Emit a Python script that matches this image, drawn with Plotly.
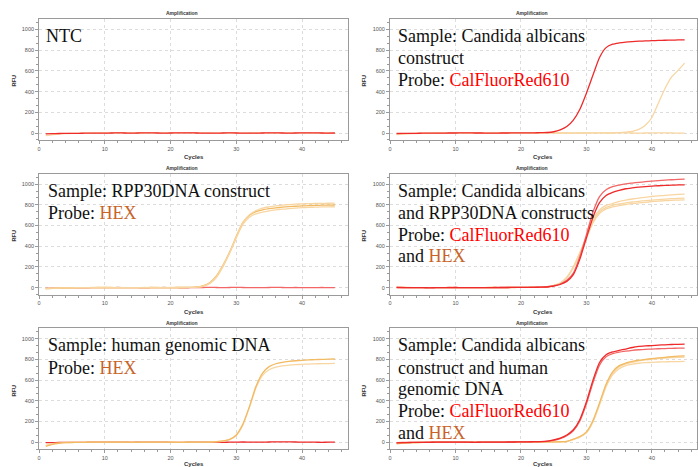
import plotly.graph_objects as go

W, H = 698, 467
cycles = list(range(1, 46))

# ---------------- data (RFU per cycle 1..45) ----------------
# Panel 1: NTC
ntc_red = [-8, -6, -5, -4, -3, -3, -2, -2, -1, -1, 0, 1, 0, -1, 0, 1, 1, 0, -1, 0, 1, 2, 1, 0, -1,
           -2, -1, 0, 1, 0, -1, -2, -1, 0, 1, 1, 0, -1, 0, 1, 2, 1, 0, -1, 0]
ntc_hex = [-25, -15, -10, -6, -4, -3, -1, 0, 1, 2, 2, 3, 2, 1, 0, 0, 1, 2, 1, 0, 1, 2, 3, 2, 1,
           0, -1, 0, 1, 0, -1, 0, 1, 2, 1, 0, 1, 2, 2, 1, 0, -1, 0, 0, -1]

# Panel 2: Candida albicans construct
ca_red = [-5, -4, -3, -3, -2, -2, -1, -1, 0, 0, 1, 1, 0, 0, -1, -1, 0, 0, 1, 1, 2, 2, 3,
          5, 12, 30, 62, 125, 230, 385, 560, 730, 825, 858, 870, 878, 883, 887, 890, 892,
          894, 896, 897, 899, 900]
ca_hex = [-12, -8, -5, -3, -2, -1, 0, 0, 1, 1, 0, 0, 1, 0, -1, 0, 0, 1, 0, 0, 1, 0, 0, 1, 0,
          0, 1, 1, 0, 0, 1, 1, 2, 2, 4, 8, 16, 35, 75, 150, 290, 430, 540, 605, 675]
ca_hex_flat = [-15, -10, -7, -5, -3, -2, -1, 0, 0, 1, 1, 0, 0, -1, 0, 1, 1, 0, 0, 1, 0, -1, 0,
               1, 1, 0, 0, -1, 0, 1, 2, 1, 0, 0, 1, 1, 0, -1, 0, 1, 2, 1, 0, -1, -1]

# Panel 3: RPP30DNA construct
rpp_hex_a = [-10, -7, -5, -3, -2, -1, 0, 0, 1, 1, 1, 0, 0, -1, 0, 0, 1, 1, 0, 0, 1, 1, 2,
             6, 18, 50, 115, 220, 345, 495, 630, 700, 735, 752, 763, 771, 777, 782, 786, 789,
             792, 794, 796, 797, 798]
rpp_hex_b = [-8, -6, -4, -3, -2, -1, 0, 1, 1, 0, 0, 1, 0, 0, -1, 0, 1, 0, 0, 1, 1, 2, 2,
             5, 15, 45, 108, 215, 340, 490, 625, 705, 745, 768, 780, 790, 797, 802, 806, 809,
             811, 813, 814, 815, 816]
rpp_hex_c = [-12, -8, -6, -4, -2, -1, -1, 0, 0, 1, 0, 0, -1, 0, 0, 1, 0, 0, 1, 0, 1, 1, 2,
             5, 13, 40, 100, 205, 335, 480, 610, 680, 712, 730, 742, 751, 758, 764, 768, 772,
             775, 777, 779, 780, 781]
rpp_red = [-6, -5, -4, -3, -3, -2, -2, -1, -1, 0, 0, 1, 0, 0, -1, -2, -1, 0, 1, 0, -1, -2, -1,
           0, 1, 2, 1, 0, 1, 2, 1, 0, -1, 0, 1, 2, 1, 0, 1, 0, -1, 0, 1, 0, 0]

# Panel 4: Candida albicans and RPP30DNA constructs
mix_red_1 = [2, 1, 0, 0, -1, -1, 0, 0, 1, 1, 0, 0, -1, -1, 0, 0, 1, 1, 2, 2, 3, 4, 5,
             8, 18, 35, 70, 140, 300, 510, 730, 880, 945, 975, 990, 1002, 1010, 1017, 1023,
             1028, 1033, 1038, 1042, 1045, 1048]
mix_red_2 = [1, 0, 0, -1, -1, -2, -1, 0, 0, 1, 0, 0, -1, 0, 0, 1, 1, 1, 2, 2, 3, 3, 4,
             6, 15, 30, 60, 125, 275, 480, 680, 820, 890, 920, 940, 955, 963, 970, 975, 980,
             984, 987, 990, 992, 993]
mix_hex_1 = [3, 2, 1, 0, 0, -1, 0, 0, 1, 0, 0, -1, 0, 0, 1, 1, 0, 1, 2, 2, 3, 4, 6,
             10, 22, 45, 100, 200, 340, 490, 660, 750, 795, 812, 832, 845, 856, 865, 872, 880,
             886, 892, 896, 900, 903]
mix_hex_2 = [2, 1, 0, 0, -1, -1, 0, 0, 1, 0, 0, 0, -1, 0, 1, 1, 0, 1, 1, 2, 3, 4, 5,
             8, 20, 44, 98, 198, 335, 485, 640, 730, 775, 795, 808, 818, 827, 834, 840, 845,
             850, 855, 859, 862, 864]
mix_hex_3 = [1, 0, 0, -1, -1, -1, 0, 0, 0, 1, 0, 0, -1, 0, 0, 1, 0, 1, 1, 2, 2, 3, 5,
             7, 18, 42, 95, 192, 325, 475, 625, 715, 760, 780, 793, 803, 811, 818, 824, 830,
             835, 840, 843, 846, 848]

# Panel 5: human genomic DNA
hg_hex_1 = [-40, -20, -10, -5, -3, -2, -1, 0, 1, 1, 0, 0, 1, 0, -1, 0, 0, 1, 0, 0, -1, -1, 0,
            1, 1, 2, 5, 12, 28, 70, 175, 345, 540, 668, 730, 758, 772, 781, 787, 791,
            795, 798, 800, 802, 804]
hg_hex_2 = [-30, -15, -8, -4, -2, -1, 0, 0, 0, 1, 0, 0, 0, 0, -1, 0, 1, 1, 0, 0, -1, 0, 0,
            1, 1, 2, 4, 11, 25, 65, 165, 335, 525, 645, 700, 725, 737, 744, 749, 752,
            755, 757, 759, 760, 761]
hg_red = [-5, -4, -3, -2, -2, -1, -1, 0, 0, 1, 1, 0, 0, -1, 0, 1, 1, 0, 0, -1, -2, -1, 0,
          1, 0, -1, -2, -1, 0, 1, 2, 1, 0, 1, 2, 3, 4, 3, 2, 1, 0, 0, -1, 0, 0]

# Panel 6: Candida albicans construct and human genomic DNA
cg_red_1 = [-6, -4, -3, -2, -1, -1, 0, 0, 1, 1, 0, 0, -1, 0, 0, 1, 1, 2, 2, 3, 4, 5, 6,
            10, 22, 40, 70, 120, 220, 390, 600, 770, 845, 872, 887, 900, 915, 925, 930,
            934, 938, 941, 944, 946, 948]
cg_red_2 = [-5, -3, -2, -2, -1, 0, 0, 0, 1, 0, 0, -1, -1, 0, 0, 1, 1, 1, 2, 3, 3, 4, 5,
            8, 18, 35, 62, 110, 205, 370, 575, 745, 825, 855, 870, 880, 888, 893, 897,
            900, 903, 905, 907, 908, 909]
cg_hex_1 = [-15, -9, -6, -4, -2, -1, 0, 0, 1, 1, 0, 0, 0, -1, 0, 1, 0, 0, 1, 1, 1, 2, 2,
            3, 3, 5, 8, 30, 55, 100, 210, 380, 560, 680, 740, 765, 780, 792, 800, 808,
            815, 820, 826, 831, 835]
cg_hex_2 = [-12, -8, -5, -3, -2, -1, 0, 0, 0, 1, 0, 0, -1, 0, 0, 0, 1, 0, 0, 1, 1, 1, 2,
            2, 3, 4, 7, 27, 52, 95, 200, 370, 548, 668, 728, 756, 772, 785, 795, 802,
            808, 813, 817, 820, 822]
cg_hex_3 = [-10, -7, -5, -3, -2, -1, -1, 0, 0, 0, 1, 0, 0, -1, 0, 0, 0, 1, 0, 0, 1, 1, 1,
            2, 2, 3, 6, 25, 48, 90, 195, 360, 535, 650, 710, 740, 755, 763, 768, 772,
            775, 777, 778, 779, 780]

# tick values
x_ticks = [0, 10, 20, 30, 40]
y_ticks = [0, 200, 400, 600, 800, 1000]

RED = "#EE2A2A"
RED_L = "#F26666"
ORG = "#F2BA62"
ORG_L = "#F8D6A2"
HEXTXT = "#C8642A"
REDTXT = "#FF0000"

def red(t):
    return f"<span style='color:{REDTXT}'>{t}</span>"

def hexc(t):
    return f"<span style='color:{HEXTXT}'>{t}</span>"

panels = [
    dict(col=0, row=0, series=[(ntc_hex, ORG_L), (ntc_red, RED)],
         text=["NTC"], tx=43, ty=[35.5]),
    dict(col=1, row=0, series=[(ca_hex_flat, ORG_L), (ca_hex, ORG_L), (ca_red, RED)],
         text=["Sample: Candida albicans", "construct", "Probe: " + red("CalFluorRed610")],
         tx=396.5, ty=[36, 58, 80]),
    dict(col=0, row=1, series=[(rpp_red, RED_L), (rpp_hex_c, ORG_L), (rpp_hex_a, ORG), (rpp_hex_b, ORG_L)],
         text=["Sample: RPP30DNA construct", "Probe: " + hexc("HEX")],
         tx=45, ty=[190.8, 213.3]),
    dict(col=1, row=1, series=[(mix_hex_3, ORG_L), (mix_hex_2, ORG_L), (mix_hex_1, ORG_L),
                               (mix_red_1, RED_L), (mix_red_2, RED)],
         text=["Sample: Candida albicans", "and RPP30DNA constructs",
               "Probe: " + red("CalFluorRed610"), "and " + hexc("HEX")],
         tx=396.5, ty=[190.8, 212.5, 234.5, 256]),
    dict(col=0, row=2, series=[(hg_red, RED), (hg_hex_2, ORG_L), (hg_hex_1, ORG)],
         text=["Sample: human genomic DNA", "Probe: " + hexc("HEX")],
         tx=45, ty=[345.2, 367.5]),
    dict(col=1, row=2, series=[(cg_hex_3, ORG_L), (cg_hex_2, ORG_L), (cg_hex_1, ORG),
                               (cg_red_2, RED_L), (cg_red_1, RED)],
         text=["Sample: Candida albicans", "construct and human", "genomic DNA",
               "Probe: " + red("CalFluorRed610"), "and " + hexc("HEX")],
         tx=396.5, ty=[345.2, 367.5, 389, 411, 432.5]),
]

# geometry (pixels)
row_zero_px = [133.0, 287.6, 442.2]      # pixel row of RFU = 0
px_per_rfu = 0.1035
y_lo, y_hi = -70, 1100
col_left_px = [37.3, 389.7]
px_per_cycle = [6.6, 6.575]
x_hi = [47, (W - 389.7) / 6.575]

title_x = [181, 532]
cycles_x = [193, 543]
rfu_x = [12.5, 364]
title_y = [13.3, 167.8, 322.6]
cycles_y = [157, 311.5, 464]
rfu_y = [81, 236, 391]

fig = go.Figure()
layout = dict(width=W, height=H, margin=dict(l=0, r=0, t=0, b=0),
              paper_bgcolor="white", plot_bgcolor="white", showlegend=False,
              annotations=[])

AX_COL = "#9a9a9a"
for i, p in enumerate(panels):
    n = i + 1
    c, r = p["col"], p["row"]
    xs = "x" if n == 1 else f"x{n}"
    ys = "y" if n == 1 else f"y{n}"
    for vals, colr in p["series"]:
        fig.add_trace(go.Scatter(x=cycles, y=vals, mode="lines", xaxis=xs, yaxis=ys,
                                 line=dict(color=colr, width=1.3, shape="spline", smoothing=0.6),
                                 hoverinfo="skip"))
    y0 = row_zero_px[r]
    top_px = y0 - y_hi * px_per_rfu
    bot_px = y0 - y_lo * px_per_rfu
    x0 = col_left_px[c]
    x1 = x0 + x_hi[c] * px_per_cycle[c]
    common = dict(showline=True, linecolor=AX_COL, linewidth=1, mirror=True,
                  ticks="outside", ticklen=3, tickwidth=1, tickcolor=AX_COL,
                  tickfont=dict(family="Liberation Sans", size=5.5, color="#555"),
                  showgrid=True, gridcolor="#dcdcdc", griddash="dot", gridwidth=1,
                  zeroline=False, fixedrange=True)
    layout["xaxis" if n == 1 else f"xaxis{n}"] = dict(
        common, domain=[x0 / W, min(x1 / W, 1.0)], range=[0, x_hi[c]], anchor=ys,
        tickvals=x_ticks, ticktext=[str(v) for v in x_ticks],
        minor=dict(dtick=2, tick0=0, ticks="outside", ticklen=2, tickcolor=AX_COL, showgrid=False))
    layout["yaxis" if n == 1 else f"yaxis{n}"] = dict(
        common, domain=[1 - bot_px / H, 1 - top_px / H], range=[y_lo, y_hi], anchor=xs,
        tickvals=y_ticks, ticktext=[str(v) for v in y_ticks],
        minor=dict(dtick=200 / 3, tick0=0, ticks="outside", ticklen=2, tickcolor=AX_COL, showgrid=False))

    ann = layout["annotations"]
    ann.append(dict(text="<b>Amplification</b>", x=title_x[c] / W, y=1 - title_y[r] / H,
                    xref="paper", yref="paper", showarrow=False, xanchor="center", yanchor="middle",
                    font=dict(family="Liberation Sans", size=5, color="#333")))
    ann.append(dict(text="<b>Cycles</b>", x=cycles_x[c] / W, y=1 - cycles_y[r] / H,
                    xref="paper", yref="paper", showarrow=False, xanchor="center", yanchor="middle",
                    font=dict(family="Liberation Sans", size=6, color="#333")))
    ann.append(dict(text="<b>RFU</b>", x=rfu_x[c] / W, y=1 - rfu_y[r] / H, textangle=-90,
                    xref="paper", yref="paper", showarrow=False, xanchor="center", yanchor="middle",
                    font=dict(family="Liberation Sans", size=5.5, color="#333")))
    for line, ty in zip(p["text"], p["ty"]):
        ann.append(dict(text=line, x=p["tx"] / W, y=1 - ty / H, xref="paper", yref="paper",
                        showarrow=False, xanchor="left", yanchor="middle", borderpad=0,
                        font=dict(family="Liberation Serif", size=18, color="#111")))

fig.update_layout(**layout)
fig.write_html("out.html", config={"displayModeBar": False},
               post_script="document.body.style.margin='0';document.body.style.overflow='hidden';")
